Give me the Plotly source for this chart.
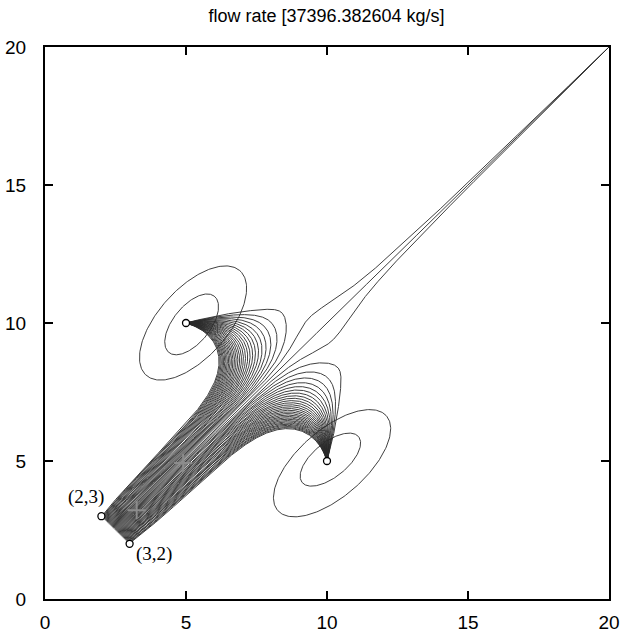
import numpy as np
import plotly.graph_objects as go

# ---- data ----
title_text = "flow rate [37396.382604 kg/s]"
inlet_start = (2.0, 3.0)
inlet_end = (3.0, 2.0)
# point wells: x, y, rate (+ injects, - produces)
well_x = [0.5, 5.0, 10.0, 20.0]
well_y = [0.5, 10.0, 5.0, 20.0]
well_rate = [1.5, -1.0, -1.0, -2.95]
marker_x = [2.0, 3.0, 5.0, 10.0]
marker_y = [3.0, 2.0, 10.0, 5.0]
cross_x = [3.25, 4.9]
cross_y = [3.22, 4.93]
label_text = ["(2,3)", "(3,2)"]
label_x = [2.0, 3.0]
label_y = [3.0, 2.0]
n_streamlines = 61
# closed contours round the two wells: centre x, centre y, semi-major, semi-minor, tilt (deg)
ring_cx = [5.2, 5.25, 10.12, 10.18]
ring_cy = [9.95, 10.0, 5.05, 4.92]
ring_a = [1.3, 2.52, 1.3, 2.58]
ring_b = [0.66, 1.24, 0.62, 1.2]
ring_tilt = [52, 49, 40, 42]
tick_vals = [0, 5, 10, 15, 20]

WX = np.array(well_x)
WY = np.array(well_y)
WQ = np.array(well_rate)


def unit(x, y):
    ux = np.zeros_like(x)
    uy = np.zeros_like(y)
    for sx, sy, q in zip(WX, WY, WQ):
        dx = x - sx
        dy = y - sy
        d2 = dx ** 2 + dy ** 2 + 1e-12
        ux += q * dx / d2
        uy += q * dy / d2
    m = np.sqrt(ux ** 2 + uy ** 2) + 1e-30
    return ux / m, uy / m


frac = (np.arange(n_streamlines) + 0.5) / n_streamlines
X = inlet_start[0] + frac * (inlet_end[0] - inlet_start[0])
Y = inlet_start[1] + frac * (inlet_end[1] - inlet_start[1])
alive = np.ones_like(X, dtype=bool)
px = [X.copy()]
py = [Y.copy()]
h = 0.01
sinks = [(sx, sy) for sx, sy, q in zip(WX, WY, WQ) if q < 0]
for step in range(8000):
    k1 = unit(X, Y)
    k2 = unit(X + 0.5 * h * k1[0], Y + 0.5 * h * k1[1])
    k3 = unit(X + 0.5 * h * k2[0], Y + 0.5 * h * k2[1])
    k4 = unit(X + h * k3[0], Y + h * k3[1])
    nX = X + h / 6 * (k1[0] + 2 * k2[0] + 2 * k3[0] + k4[0])
    nY = Y + h / 6 * (k1[1] + 2 * k2[1] + 2 * k3[1] + k4[1])
    X = np.where(alive, nX, X)
    Y = np.where(alive, nY, Y)
    for sx, sy in sinks:
        close = (X - sx) ** 2 + (Y - sy) ** 2 < (1.5 * h) ** 2
        X = np.where(alive & close, sx, X)
        Y = np.where(alive & close, sy, Y)
        alive &= ~close
    alive &= (X > -0.01) & (X < 20.01) & (Y > -0.01) & (Y < 20.01)
    px.append(X.copy())
    py.append(Y.copy())
    if not alive.any():
        break

PX = np.array(px)
PY = np.array(py)
lx, ly = [], []
for i in range(n_streamlines):
    xi = PX[:, i]
    yi = PY[:, i]
    keep = np.concatenate([[True], (np.diff(xi) != 0) | (np.diff(yi) != 0)])
    lx.extend(xi[keep].tolist() + [None])
    ly.extend(yi[keep].tolist() + [None])

theta = np.linspace(0, 2 * np.pi, 240)
ex, ey = [], []
for cx, cy, a, b, tl in zip(ring_cx, ring_cy, ring_a, ring_b, ring_tilt):
    c, s = np.cos(np.radians(tl)), np.sin(np.radians(tl))
    u = a * np.cos(theta)
    v = b * np.sin(theta)
    ex.extend((cx + u * c - v * s).tolist() + [None])
    ey.extend((cy + u * s + v * c).tolist() + [None])

fig = go.Figure()
fig.add_trace(go.Scatter(x=lx, y=ly, mode="lines",
                         line=dict(color="#2a2a2a", width=0.9), hoverinfo="skip"))
fig.add_trace(go.Scatter(x=ex, y=ey, mode="lines",
                         line=dict(color="#2a2a2a", width=0.9), hoverinfo="skip"))
fig.add_trace(go.Scatter(x=cross_x, y=cross_y, mode="markers",
                         marker=dict(symbol="cross-thin", size=13,
                                     line=dict(color="#8c8c8c", width=2)),
                         hoverinfo="skip"))
fig.add_trace(go.Scatter(x=marker_x, y=marker_y, mode="markers",
                         marker=dict(symbol="circle", size=7, color="white",
                                     line=dict(color="black", width=1.3)),
                         hoverinfo="skip"))

fig.add_annotation(x=label_x[0], y=label_y[0], text=label_text[0], showarrow=False,
                   xanchor="right", yanchor="bottom", xshift=5, yshift=6,
                   font=dict(family="Liberation Serif", size=19, color="black"))
fig.add_annotation(x=label_x[1], y=label_y[1], text=label_text[1], showarrow=False,
                   xanchor="left", yanchor="top", xshift=4, yshift=3,
                   font=dict(family="Liberation Serif", size=19, color="black"))

axis_common = dict(range=[0, 20], tickvals=tick_vals, ticks="inside", ticklen=8,
                   tickwidth=1.5, tickcolor="black", showline=True, linewidth=2,
                   linecolor="black", mirror="ticks", showgrid=False, zeroline=False,
                   automargin=False,
                   tickfont=dict(family="Liberation Sans", size=19, color="black"))
fig.update_xaxes(**axis_common, ticklabelstandoff=5)
fig.update_yaxes(**axis_common, ticklabelstandoff=13)

fig.update_layout(
    width=622, height=632,
    margin=dict(l=45, r=13, t=47, b=33),
    paper_bgcolor="white", plot_bgcolor="white",
    showlegend=False,
    title=dict(text=title_text, x=0.525, xanchor="center", y=0.975, yanchor="middle",
               font=dict(family="Liberation Sans", size=18, color="black")),
)
fig.write_html("out.html")
